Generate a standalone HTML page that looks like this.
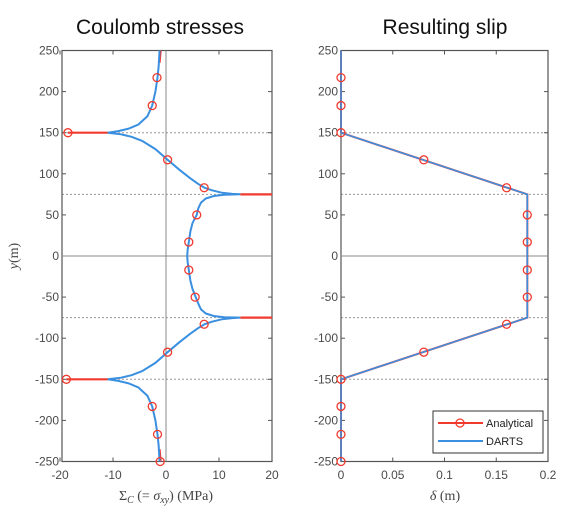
<!DOCTYPE html>
<html><head><meta charset="utf-8"><style>
body{margin:0;background:#fff;}
svg{display:block;font-family:"Liberation Sans",sans-serif;}
.tk{font-size:12px;fill:#4a4a4a;}
</style></head><body>
<svg id="c" width="574" height="514"></svg>
<script>
// Left plot: Coulomb stresses (DARTS curve samples)
const curveY = [250,230,217,200,183,170,160,155,152,150,148,145,140,130,117,105,95,88,83,80,77,75.5,75,74.5,73,70,65,58,50,40,30,17,8,0,-8,-17,-30,-40,-50,-58,-65,-70,-73,-74.5,-75,-75.5,-77,-80,-83,-88,-95,-105,-117,-130,-140,-145,-148,-150,-152,-155,-160,-170,-183,-200,-217,-230,-250];
const curveX = [-1.2,-1.4,-1.6,-2.0,-2.6,-3.5,-5.2,-7,-9,-11,-8.5,-6.5,-4.5,-2,0.3,2.5,4.5,6,7.3,8.6,10.5,12.5,14,11,9,7.5,6.6,6.1,5.8,5.0,4.6,4.3,4.1,4.0,4.1,4.3,4.6,5.0,5.6,6.1,6.6,7.5,9,11,14,12.5,10.5,8.6,7.3,6,4.5,2.5,0.3,-2,-4.5,-6.5,-8.5,-11,-9,-7,-5.2,-3.5,-2.6,-2.0,-1.6,-1.4,-1.2];
const markY = [217,183,150,117,83,50,17,-17,-50,-83,-117,-150,-183,-217,-250];
const stressMarkX = [-1.7,-2.6,-18.5,0.3,7.2,5.8,4.3,4.3,5.5,7.2,0.3,-18.8,-2.6,-1.6,-1.1];
const spikeY = [150,75,-75,-150];
const spikeFrom = [-11,14,14,-11];
const spikeTo = [-18.5,20,20,-18.8];
// Right plot: slip
const slipY = [250,150,75,-75,-150,-250];
const slipX = [0,0,0.18,0.18,0,0];
const slipMarkX = [0,0,0,0.08,0.16,0.18,0.18,0.18,0.18,0.16,0.08,0,0,0,0];
const yTicks = [250,200,150,100,50,0,-50,-100,-150,-200,-250];
const xTicksL = [-20,-10,0,10,20];
const xTicksR = [0,0.05,0.1,0.15,0.2];
const xTickLabR = ["0","0.05","0.1","0.15","0.2"];

const NS="http://www.w3.org/2000/svg";
const svg=document.getElementById('c');
function el(t,a,p){const e=document.createElementNS(NS,t);for(const k in a)e.setAttribute(k,a[k]);(p||svg).appendChild(e);return e;}
const yS=v=>256-v*0.822;
const xL=v=>166+v*5.3;
const xR=v=>341+v*1035;

function axes(x0,x1,name,xt,xs,labs){
  const g=el('g',{});
  
  
  [150,75,-75,-150].forEach(v=>{const l=el('line',{x1:x0,x2:x1,y1:yS(v),y2:yS(v),stroke:'#999','stroke-width':1,'stroke-dasharray':'2,2'},g);
    });
  el('rect',{x:x0,y:yS(250),width:x1-x0,height:yS(-250)-yS(250),fill:'none',stroke:'#555','stroke-width':1.2},g);
  yTicks.forEach(v=>{
    el('line',{x1:x0,x2:x0+4,y1:yS(v),y2:yS(v),stroke:'#555'},g);
    el('line',{x1:x1,x2:x1-4,y1:yS(v),y2:yS(v),stroke:'#555'},g);
    const t=el('text',{x:x0-3,y:yS(v)+4,'text-anchor':'end',class:'tk'},g);t.textContent=v;
    
  });
  xt.forEach((v,i)=>{
    el('line',{x1:xs(v),x2:xs(v),y1:yS(-250),y2:yS(-250)-4,stroke:'#555'},g);
    el('line',{x1:xs(v),x2:xs(v),y1:yS(250),y2:yS(250)+4,stroke:'#555'},g);
    const t=el('text',{x:xs(v),y:479,'text-anchor':'middle',class:'tk'},g);t.textContent=labs?labs[i]:v;
    
  });
  return g;
}
axes(62,272,'stress-axes',xTicksL,xL);
axes(341,548,'slip-axes',xTicksR,xR,xTickLabR);
el('line',{x1:62,x2:272,y1:yS(0),y2:yS(0),stroke:'#888'});
el('line',{x1:xL(0),x2:xL(0),y1:yS(250),y2:yS(-250),stroke:'#888'});
el('line',{x1:341,x2:548,y1:yS(0),y2:yS(0),stroke:'#888'});

const red='#f03a2e',blue='#3a8fe0';
let p=el('path',{d:'M'+xL(-1.0)+','+yS(250)+' L'+xL(-1.2)+','+yS(235)+' M'+xL(-1.2)+','+yS(-235)+' L'+xL(-1.0)+','+yS(-250),stroke:red,'stroke-width':2,fill:'none'});

spikeY.forEach((v,i)=>{const l=el('line',{x1:xL(spikeFrom[i]),x2:xL(spikeTo[i]),y1:yS(v),y2:yS(v),stroke:red,'stroke-width':2.2});
  });
p=el('path',{d:curveY.map((v,i)=>(i?'L':'M')+xL(curveX[i]).toFixed(1)+','+yS(v).toFixed(1)).join(' '),stroke:blue,'stroke-width':2,fill:'none'});

markY.forEach((v,i)=>{const c=el('circle',{cx:xL(stressMarkX[i]),cy:yS(v),r:4,fill:'none',stroke:red,'stroke-width':1.3});
  });

p=el('path',{d:slipY.map((v,i)=>(i?'L':'M')+xR(slipX[i])+','+yS(v)).join(' '),stroke:red,'stroke-width':2,fill:'none'});

p=el('path',{d:slipY.map((v,i)=>(i?'L':'M')+xR(slipX[i])+','+yS(v)).join(' '),stroke:blue,'stroke-width':1.6,fill:'none'});

markY.forEach((v,i)=>{const c=el('circle',{cx:xR(slipMarkX[i]),cy:yS(v),r:4,fill:'none',stroke:red,'stroke-width':1.3});
  });
</script>
<svg style="position:absolute;left:0;top:0" width="574" height="514">
<text x="160" y="34" text-anchor="middle" font-size="21" fill="#111" font-family="Liberation Sans,sans-serif">Coulomb stresses</text>
<text x="445" y="34" text-anchor="middle" font-size="21" fill="#111" font-family="Liberation Sans,sans-serif">Resulting slip</text>
<text transform="translate(18,256) rotate(-90)" text-anchor="middle" font-size="14" fill="#444" font-family="Liberation Serif,serif" font-style="italic">y<tspan font-style="normal">(m)</tspan></text>
<text x="166" y="500" text-anchor="middle" font-size="14" fill="#444" font-family="Liberation Serif,serif">Σ<tspan font-style="italic" font-size="10" dy="3">C</tspan><tspan dy="-3"> (= </tspan><tspan font-style="italic">σ</tspan><tspan font-style="italic" font-size="10" dy="3">xy</tspan><tspan dy="-3">) (MPa)</tspan></text>
<text x="445" y="500" text-anchor="middle" font-size="14" fill="#444" font-family="Liberation Serif,serif"><tspan font-style="italic">δ</tspan> (m)</text>
<g>
<rect x="433" y="411" width="110" height="42" fill="#fff" stroke="#333" stroke-width="1"/>
<line x1="438" y1="423" x2="483" y2="423" stroke="#f03a2e" stroke-width="2"/>
<circle cx="460" cy="423" r="4" fill="none" stroke="#f03a2e" stroke-width="1.3"/>
<text x="486" y="427" font-size="11" fill="#222" font-family="Liberation Sans,sans-serif">Analytical</text>
<line x1="438" y1="441" x2="483" y2="441" stroke="#3a8fe0" stroke-width="2"/>
<text x="486" y="445" font-size="11" fill="#222" font-family="Liberation Sans,sans-serif">DARTS</text>
</g>
</svg>
</body></html>
